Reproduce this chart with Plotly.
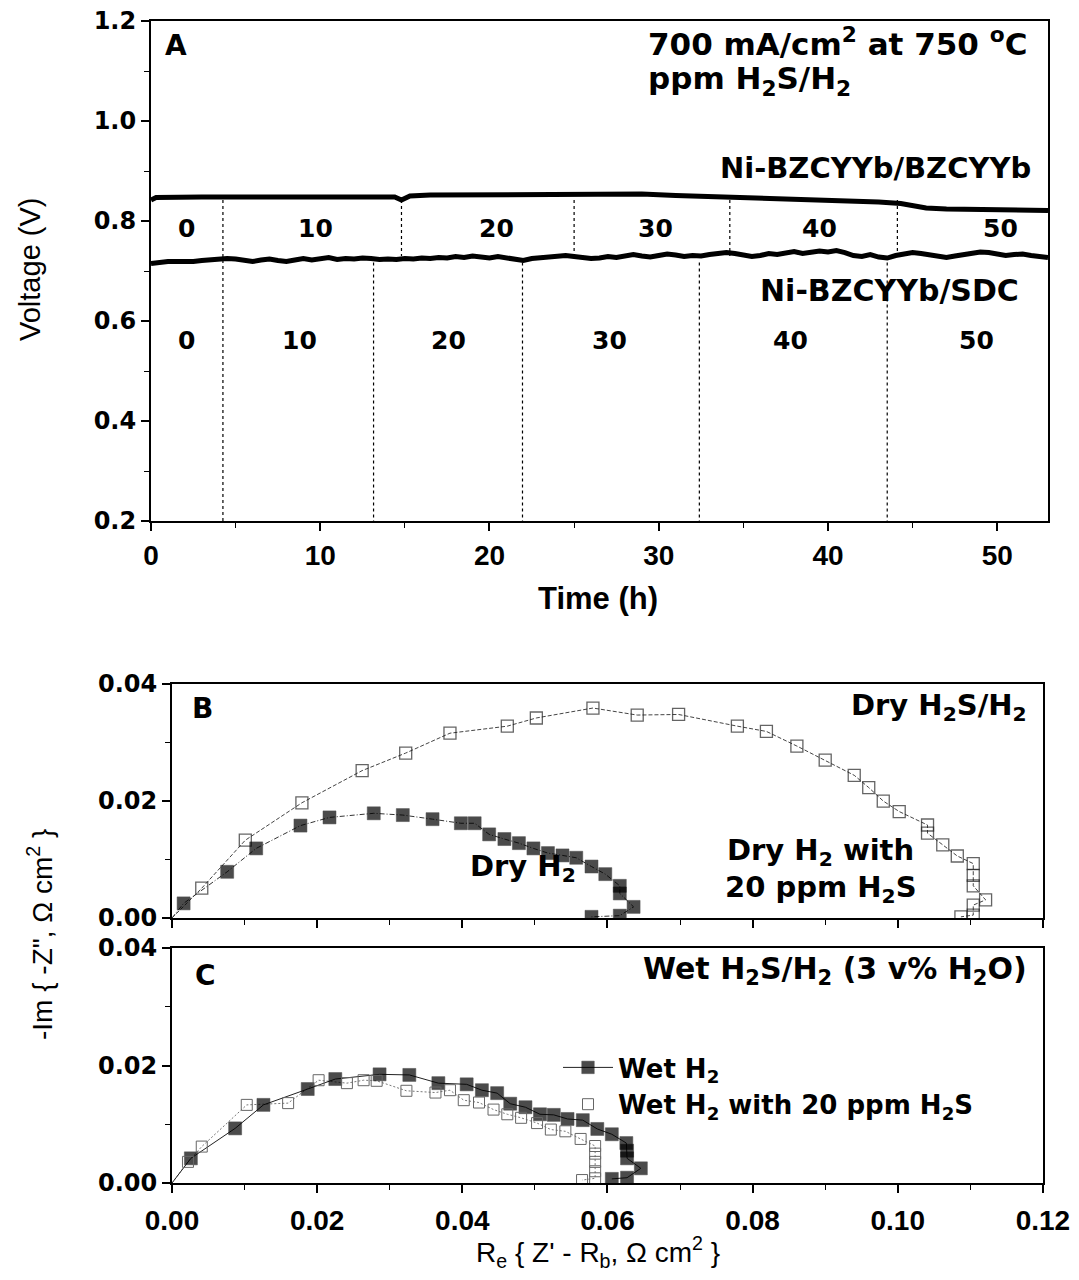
import plotly.graph_objects as go

# ---------------- Panel A : durability test ----------------
t_bzcyyb = [0, 0.3, 3, 6, 9, 12, 14.4, 14.8, 15.3, 16.5, 20, 24, 27, 29, 31, 33, 35, 37,
            39, 41, 43, 44.3, 45.0, 45.8, 47, 49, 51, 53]
v_bzcyyb = [0.842, 0.847, 0.848, 0.848, 0.847, 0.848, 0.848, 0.842, 0.850, 0.852, 0.852,
            0.853, 0.854, 0.854, 0.851, 0.849, 0.847, 0.846, 0.844, 0.841, 0.838, 0.835,
            0.830, 0.826, 0.824, 0.823, 0.822, 0.821]

t_sdc = [0, 0.5, 1, 1.5, 2, 2.5, 3, 3.5, 4, 4.5, 5, 5.5, 6, 6.5, 7, 7.5, 8, 8.5, 9, 9.5,
         10, 10.5, 11, 11.5, 12, 12.5, 13, 13.5, 14, 14.5, 15, 15.5, 16, 16.5, 17, 17.5,
         18, 18.5, 19, 19.5, 20, 20.5, 21, 21.5, 22, 22.5, 23, 23.5, 24, 24.5, 25, 25.5,
         26, 26.5, 27, 27.5, 28, 28.5, 29, 29.5, 30, 30.5, 31, 31.5, 32, 32.5, 33, 33.5,
         34, 34.5, 35, 35.5, 36, 36.5, 37, 37.5, 38, 38.5, 39, 39.5, 40, 40.5, 41, 41.5,
         42, 42.5, 43, 43.5, 44, 44.5, 45, 45.5, 46, 46.5, 47, 47.5, 48, 48.5, 49, 49.5,
         50, 50.5, 51, 51.5, 52, 52.5, 53]
v_sdc = [0.715, 0.718, 0.719, 0.719, 0.718, 0.719, 0.721, 0.723, 0.724, 0.725, 0.724, 0.722,
         0.719, 0.722, 0.724, 0.721, 0.719, 0.722, 0.725, 0.722, 0.724, 0.727, 0.723, 0.725,
         0.724, 0.726, 0.725, 0.723, 0.724, 0.723, 0.725, 0.724, 0.726, 0.725, 0.727, 0.726,
         0.729, 0.727, 0.730, 0.728, 0.726, 0.729, 0.727, 0.724, 0.721, 0.725, 0.727, 0.728,
         0.730, 0.731, 0.729, 0.727, 0.725, 0.726, 0.729, 0.727, 0.731, 0.733, 0.730, 0.728,
         0.731, 0.734, 0.732, 0.729, 0.731, 0.730, 0.733, 0.735, 0.737, 0.735, 0.732, 0.729,
         0.731, 0.735, 0.733, 0.736, 0.739, 0.735, 0.737, 0.740, 0.738, 0.741, 0.737, 0.731,
         0.729, 0.733, 0.728, 0.726, 0.731, 0.735, 0.737, 0.735, 0.733, 0.729, 0.727, 0.730,
         0.733, 0.736, 0.738, 0.737, 0.733, 0.731, 0.733, 0.734, 0.731, 0.728, 0.727]

voltage_ticks = [0.2, 0.4, 0.6, 0.8, 1.0, 1.2]
time_ticks = [0, 10, 20, 30, 40, 50]

# time markers (h) separating 10-h segments of each cell's own clock
mark_shared = [4.25]
marks_bzcyyb = [14.8, 25.0, 34.2, 44.1]
marks_sdc = [13.15, 21.95, 32.4, 43.5]
seg_labels = ["0", "10", "20", "30", "40", "50"]
seg_x_bzcyyb = [2.1, 9.7, 20.4, 29.8, 39.5, 50.2]
seg_x_sdc = [2.1, 8.8, 17.6, 27.1, 37.8, 48.8]
seg_y_bzcyyb = 0.786
seg_y_sdc = 0.562

# ---------------- Panel B : dry fuels ----------------
dry_h2_x = [0, 0.0016, 0.0076, 0.0116, 0.0177, 0.0217, 0.0278, 0.0318, 0.0359, 0.0398,
            0.0417, 0.0437, 0.0458, 0.0478, 0.0498, 0.0518, 0.0538, 0.0557, 0.0578, 0.0597,
            0.0617, 0.0617, 0.0636, 0.0617, 0.0578]
dry_h2_y = [0, 0.0025, 0.0079, 0.0119, 0.0158, 0.0172, 0.0179, 0.0176, 0.0169, 0.0162,
            0.0162, 0.0143, 0.0135, 0.0128, 0.0119, 0.0111, 0.0107, 0.0103, 0.0088, 0.0075,
            0.0055, 0.0042, 0.0019, 0.0004, 0.0002]

dry_h2s_x = [0, 0.0041, 0.0101, 0.0179, 0.0262, 0.0322, 0.0383, 0.0462, 0.0502, 0.0580,
             0.0641, 0.0698, 0.0779, 0.0819, 0.0861, 0.0900, 0.0940, 0.0960, 0.0980, 0.1002,
             0.1041, 0.1041, 0.1062, 0.1082, 0.1104, 0.1104, 0.1104, 0.1121, 0.1104, 0.1104,
             0.1087]
dry_h2s_y = [0, 0.0051, 0.0133, 0.0197, 0.0252, 0.0282, 0.0316, 0.0328, 0.0342, 0.0359,
             0.0347, 0.0348, 0.0328, 0.0319, 0.0294, 0.0270, 0.0244, 0.0223, 0.0200, 0.0182,
             0.0159, 0.0145, 0.0125, 0.0106, 0.0093, 0.0073, 0.0055, 0.0031, 0.0022, 0.0005,
             0.0002]

# ---------------- Panel C : wet fuels ----------------
wet_h2_x = [0, 0.0026, 0.0087, 0.0126, 0.0187, 0.0225, 0.0286, 0.0327, 0.0367, 0.0406,
            0.0427, 0.0448, 0.0466, 0.0487, 0.0507, 0.0526, 0.0545, 0.0566, 0.0586, 0.0606,
            0.0626, 0.0627, 0.0627, 0.0646, 0.0627, 0.0606]
wet_h2_y = [0, 0.0042, 0.0093, 0.0133, 0.0160, 0.0177, 0.0185, 0.0184, 0.0170, 0.0168,
            0.0158, 0.0153, 0.0135, 0.0129, 0.0117, 0.0116, 0.0109, 0.0107, 0.0092, 0.0083,
            0.0068, 0.0055, 0.0042, 0.0025, 0.0009, 0.0007]

wet_h2s_x = [0, 0.0022, 0.0041, 0.0103, 0.0160, 0.0202, 0.0241, 0.0264, 0.0282, 0.0323,
             0.0363, 0.0383, 0.0402, 0.0423, 0.0443, 0.0462, 0.0481, 0.0503, 0.0522, 0.0542,
             0.0563, 0.0583, 0.0583, 0.0583, 0.0583, 0.0583, 0.0565]
wet_h2s_y = [0, 0.0036, 0.0062, 0.0133, 0.0136, 0.0175, 0.0170, 0.0175, 0.0174, 0.0157,
             0.0154, 0.0158, 0.0141, 0.0137, 0.0125, 0.0117, 0.0111, 0.0102, 0.0091, 0.0088,
             0.0075, 0.0063, 0.0050, 0.0036, 0.0020, 0.0008, 0.0005]

imp_ticks = [0.0, 0.02, 0.04]
re_ticks = [0.0, 0.02, 0.04, 0.06, 0.08, 0.10, 0.12]

# page body keeps an 8px default margin, so the figure is 16px smaller than the window
PAGE_W, PAGE_H, OFF = 1079, 1280, 8
W, H = PAGE_W - 2 * OFF, PAGE_H - 2 * OFF
BOLD = "DejaVu Sans"
NARROW = "Liberation Sans Narrow, Arial Narrow, Liberation Sans"
ARIAL = "Liberation Sans, Arial"


def px_x(p):
    return (p - OFF) / W


def px_y(p):
    return 1 - (p - OFF) / H


def seg_lines(xs, y0, y1):
    xx, yy = [], []
    for m in xs:
        xx += [m, m, None]
        yy += [y0, y1, None]
    return xx, yy


fig = go.Figure()

# Panel A curves
fig.add_trace(go.Scatter(x=t_bzcyyb, y=v_bzcyyb, mode="lines", line=dict(color="black", width=5),
                         showlegend=False, xaxis="x", yaxis="y"))
fig.add_trace(go.Scatter(x=t_sdc, y=v_sdc, mode="lines", line=dict(color="black", width=5),
                         showlegend=False, xaxis="x", yaxis="y"))

dash = "3px,3px"
for xs, y0, y1 in [(mark_shared, 0.842, 0.2), (marks_bzcyyb, 0.842, 0.73), (marks_sdc, 0.717, 0.2)]:
    lx, ly = seg_lines(xs, y0, y1)
    fig.add_trace(go.Scatter(x=lx, y=ly, mode="lines", line=dict(color="black", width=1.2, dash=dash),
                             showlegend=False, xaxis="x", yaxis="y"))

# Panel B
fig.add_trace(go.Scatter(x=dry_h2s_x, y=dry_h2s_y, mode="lines+markers",
                         line=dict(color="#444", width=1, dash="4px,2px"),
                         marker=dict(symbol="square-open", size=[0] + [12] * (len(dry_h2s_x) - 1),
                                     color="#222", line=dict(width=1.3, color="#222")),
                         showlegend=False, xaxis="x2", yaxis="y2"))
fig.add_trace(go.Scatter(x=dry_h2_x, y=dry_h2_y, mode="lines+markers",
                         line=dict(color="#333", width=1, dash="5px,2px,1px,2px"),
                         marker=dict(symbol="square", size=[0] + [13] * (len(dry_h2_x) - 1), color="black",
                                     line=dict(width=0.5, color="black")),
                         showlegend=False, xaxis="x2", yaxis="y2"))

# Panel C
fig.add_trace(go.Scatter(x=wet_h2s_x, y=wet_h2s_y, mode="lines",
                         line=dict(color="#777", width=1, dash="2px,2px"),
                         showlegend=False, xaxis="x3", yaxis="y3"))
fig.add_trace(go.Scatter(x=wet_h2_x, y=wet_h2_y, mode="lines+markers",
                         line=dict(color="#222", width=1),
                         marker=dict(symbol="square", size=[0] + [13] * (len(wet_h2_x) - 1), color="black",
                                     line=dict(width=0.5, color="black")),
                         name="Wet H<sub>2</sub>", showlegend=True, xaxis="x3", yaxis="y3"))
fig.add_trace(go.Scatter(x=wet_h2s_x[1:], y=wet_h2s_y[1:], mode="markers",
                         marker=dict(symbol="square-open", size=11, color="#666",
                                     line=dict(width=1, color="#666")),
                         name="Wet H<sub>2</sub> with 20 ppm H<sub>2</sub>S", showlegend=True,
                         xaxis="x3", yaxis="y3"))

axis_common = dict(showline=True, linecolor="black", linewidth=2, mirror=True, showgrid=False,
                   zeroline=False, ticks="outside", ticklen=8, tickwidth=1.5, tickcolor="black",
                   automargin=False, ticklabeloverflow="allow")
minor_common = dict(ticks="outside", ticklen=5, tickcolor="black", tickwidth=1.2)

xdomA = [px_x(151), px_x(1048)]
xdomBC = [px_x(172), px_x(1043)]

fig.update_layout(
    width=W, height=H, margin=dict(l=0, r=0, t=0, b=0, autoexpand=False),
    paper_bgcolor="white", plot_bgcolor="white",
    xaxis=dict(domain=xdomA, anchor="y", range=[0, 53], tickvals=time_ticks,
               minor=dict(tickvals=[5, 15, 25, 35, 45], **minor_common),
               tickfont=dict(family=ARIAL, size=28, color="black", weight="bold"), ticklabelstandoff=0,
               **axis_common),
    yaxis=dict(domain=[px_y(521), px_y(21)], anchor="x", range=[0.2, 1.2001],
               tickvals=voltage_ticks, ticktext=[f"{v:.1f}" for v in voltage_ticks],
               minor=dict(dtick=0.1, **minor_common),
               tickfont=dict(family=BOLD, size=24, color="black", weight="bold"),
               **axis_common),
    xaxis2=dict(domain=xdomBC, anchor="y2", range=[0, 0.12001], tickvals=re_ticks, showticklabels=False,
                minor=dict(dtick=0.01, **minor_common),
                **axis_common),
    yaxis2=dict(domain=[px_y(918), px_y(684)], anchor="x2", range=[0, 0.04001],
                tickvals=imp_ticks, ticktext=[f"{v:.2f}" for v in imp_ticks],
                minor=dict(dtick=0.01, **minor_common),
                tickfont=dict(family=BOLD, size=24, color="black", weight="bold"),
                **axis_common),
    xaxis3=dict(domain=xdomBC, anchor="y3", range=[0, 0.12001],
                tickvals=re_ticks, ticktext=[f"{v:.2f}" for v in re_ticks],
                minor=dict(dtick=0.01, **minor_common),
                tickfont=dict(family=ARIAL, size=28, color="black", weight="bold"), ticklabelstandoff=3,
                **axis_common),
    yaxis3=dict(domain=[px_y(1183), px_y(948)], anchor="x3", range=[0, 0.04001],
                tickvals=imp_ticks, ticktext=[f"{v:.2f}" for v in imp_ticks],
                minor=dict(dtick=0.01, **minor_common),
                tickfont=dict(family=BOLD, size=24, color="black", weight="bold"),
                **axis_common),
    legend=dict(x=px_x(558), y=px_y(1044), xanchor="left", yanchor="top", itemwidth=50,
                font=dict(family=BOLD, size=26, color="black", weight="bold"),
                bgcolor="rgba(0,0,0,0)", tracegroupgap=0),
)

ann = []


def add_text(text, x, y, xref, yref, size, family=BOLD, xanchor="center", yanchor="middle",
             angle=0, bold=True):
    ann.append(dict(text=text, x=x, y=y, xref=xref, yref=yref, showarrow=False,
                    xanchor=xanchor, yanchor=yanchor, textangle=angle,
                    font=dict(family=family, size=size, color="black",
                              weight="bold" if bold else "normal")))


# Panel A texts
add_text("A", 0.7, 1.152, "x", "y", 28, xanchor="left")
add_text("700 mA/cm<sup>2</sup> at 750 <sup>o</sup>C", 29.25, 1.158, "x", "y", 31, xanchor="left")
add_text("ppm H<sub>2</sub>S/H<sub>2</sub>", 29.25, 1.082, "x", "y", 31, xanchor="left")
add_text("Ni-BZCYYb/BZCYYb", 52.1, 0.906, "x", "y", 29, xanchor="right")
add_text("Ni-BZCYYb/SDC", 51.4, 0.662, "x", "y", 30, xanchor="right")
for lab, xv in zip(seg_labels, seg_x_bzcyyb):
    add_text(lab, xv, seg_y_bzcyyb, "x", "y", 25)
for lab, xv in zip(seg_labels, seg_x_sdc):
    add_text(lab, xv, seg_y_sdc, "x", "y", 25)

# Panel B texts
add_text("B", 0.0025, 0.0359, "x2", "y2", 28, xanchor="left")
add_text("Dry H<sub>2</sub>S/H<sub>2</sub>", 0.1181, 0.0361, "x2", "y2", 29, xanchor="right")
add_text("Dry H<sub>2</sub> with", 0.0762, 0.0113, "x2", "y2", 29, xanchor="left")
add_text("20 ppm H<sub>2</sub>S", 0.0759, 0.0050, "x2", "y2", 29, xanchor="left")
add_text("Dry H<sub>2</sub>", 0.0408, 0.0085, "x2", "y2", 29, xanchor="left")

# Panel C texts
add_text("C", 0.0029, 0.0354, "x3", "y3", 28, xanchor="left")
add_text("Wet H<sub>2</sub>S/H<sub>2</sub> (3 v% H<sub>2</sub>O)", 0.1181, 0.0361, "x3", "y3", 30,
         xanchor="right")

# Axis titles
add_text("Voltage (V)", px_x(30), px_y(270), "paper", "paper", 29, family=NARROW, angle=-90, bold=False)
add_text("Time (h)", px_x(598), px_y(598), "paper", "paper", 31, family=ARIAL)
add_text("-Im { -Z\", \u03a9 cm<sup>2</sup> }", px_x(40), px_y(935), "paper", "paper", 28,
         family=NARROW, angle=-90, bold=False)
add_text("R<sub>e</sub> { Z' - R<sub>b</sub>, \u03a9 cm<sup>2</sup> }", px_x(598), px_y(1252),
         "paper", "paper", 28, family=NARROW, bold=False)

fig.update_layout(annotations=ann)
fig.write_html("out.html")
